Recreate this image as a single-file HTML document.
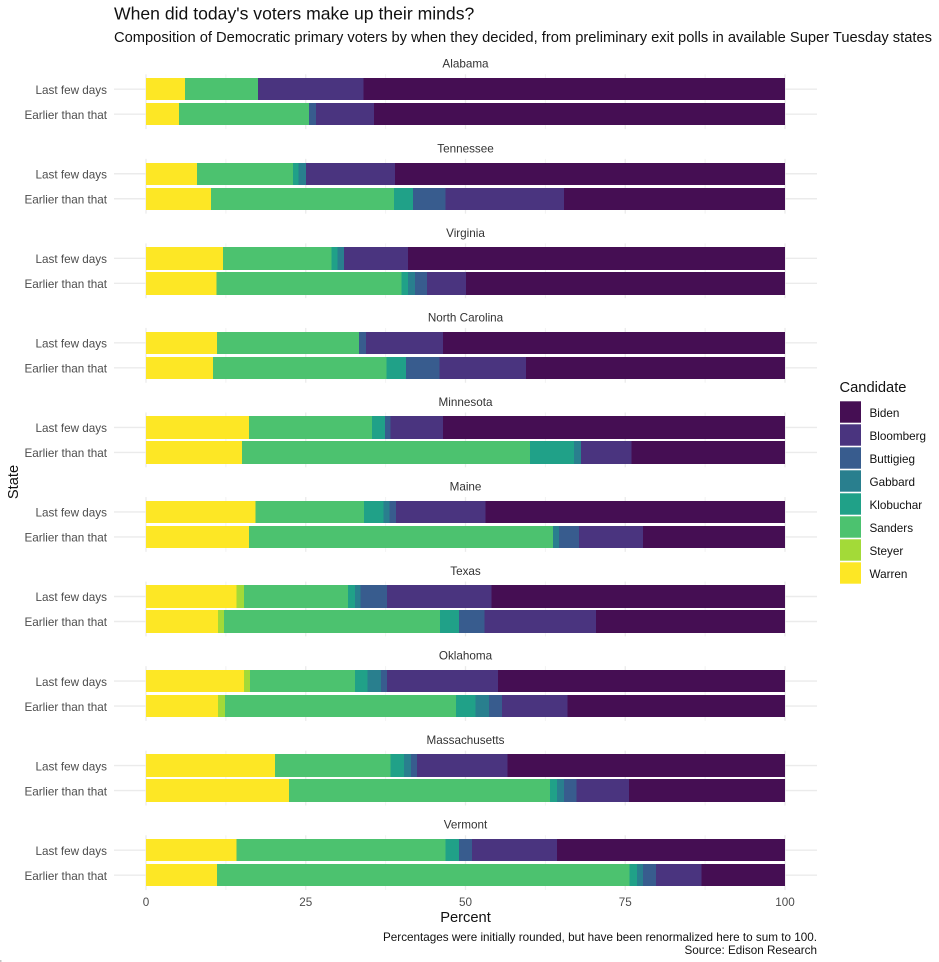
<!DOCTYPE html>
<html lang="en">
<head>
<meta charset="utf-8">
<title>When did today's voters make up their minds?</title>
<style>
html,body{margin:0;padding:0;background:#fff;width:939px;height:962px;overflow:hidden}
svg{display:block;font-family:"Liberation Sans",Arial,sans-serif}
</style>
</head>
<body>
<svg id="chart" width="939" height="962" viewBox="0 0 939 962" xmlns="http://www.w3.org/2000/svg">
  <rect x="0" y="0" width="939" height="962" fill="#ffffff"/>
  <text x="114" y="19.5" font-size="17.6" fill="#111">When did today's voters make up their minds?</text>
  <text x="114" y="42" font-size="14.7" fill="#111">Composition of Democratic primary voters by when they decided, from preliminary exit polls in available Super Tuesday states</text>
  <g id="panels"></g>
  <text transform="translate(18,482) rotate(-90)" text-anchor="middle" font-size="14.7" fill="#111">State</text>
  <text x="465.5" y="922" text-anchor="middle" font-size="14.7" fill="#111">Percent</text>
  <g id="x-ticks"></g>
  <g id="legend">
    <text x="839.5" y="392" font-size="14.7" fill="#111">Candidate</text>
  </g>
  <text x="817" y="941" text-anchor="end" font-size="11.7" fill="#111">Percentages were initially rounded, but have been renormalized here to sum to 100.</text>
  <text x="817" y="954" text-anchor="end" font-size="11.7" fill="#111">Source: Edison Research</text>
  <rect x="0" y="960" width="1.5" height="2" fill="#c4c4c4"/>
</svg>
<script>
const states = ["Alabama","Tennessee","Virginia","North Carolina","Minnesota","Maine","Texas","Oklahoma","Massachusetts","Vermont"];
const timings = ["Last few days","Earlier than that"];
const xTicks = [0,25,50,75,100];
const candidates = ["Biden","Bloomberg","Buttigieg","Gabbard","Klobuchar","Sanders","Steyer","Warren"];
const candidateColors = ["#450e53","#4a347f","#385c8e","#297f8e","#20a188","#4cc26f","#a3da38","#fde725"];
/* Each array: rows in order state by state, Last few days then Earlier than that */
const warren    = [6.1,5.2, 8.0,10.2, 12.05,11.0, 11.1,10.5, 16.1,15.0, 17.1,16.1, 14.2,11.3, 15.3,11.3, 20.2,22.4, 14.2,11.1];
const steyer    = [0,0, 0,0, 0,0, 0,0, 0,0, 0,0, 1.1,0.9, 1.0,1.1, 0,0, 0,0];
const sanders   = [11.4,20.3, 15.0,28.6, 16.95,29.0, 22.2,27.1, 19.3,45.1, 17.0,47.6, 16.3,33.8, 16.4,36.1, 18.1,40.8, 32.7,64.6];
const klobuchar = [0,0, 0.9,3.0, 1.0,1.0, 0,3.1, 2.0,6.9, 3.1,0, 1.1,3.0, 2.0,3.1, 2.1,1.1, 2.1,1.1];
const gabbard   = [0,0, 1.1,0, 1.0,1.1, 0,0, 0,1.1, 0.9,0.9, 0.9,0, 2.1,2.1, 1.1,1.1, 0,1.0];
const buttigieg = [0,1.1, 0,5.1, 0,1.9, 1.1,5.2, 0.9,0, 1.0,3.2, 4.1,4.0, 0.9,2.0, 0.9,2.0, 2.0,2.0];
const bloomberg = [16.5,9.1, 14.0,18.5, 10.0,6.1, 12.1,13.6, 8.2,7.9, 14.0,10.0, 16.4,17.4, 17.4,10.3, 14.2,8.2, 13.3,7.1];
const biden     = [66.0,64.3, 61.0,34.6, 59.0,49.9, 53.5,40.5, 53.5,24.0, 46.9,22.2, 45.9,29.6, 44.9,34.0, 43.4,24.4, 35.7,13.1];

const NS = "http://www.w3.org/2000/svg";
const stackOrder = [
  ["Warren", warren], ["Steyer", steyer], ["Sanders", sanders], ["Klobuchar", klobuchar],
  ["Gabbard", gabbard], ["Buttigieg", buttigieg], ["Bloomberg", bloomberg], ["Biden", biden]
];
const plotLeft = 114, plotRight = 817;
const x = function (v) { return 146 + v * 6.39; };
const panelStep = 84.55, firstRowCenter = 89.2, rowStep = 25, barHeight = 22.4;
const panelTop = function (s) { return 74.3 + s * panelStep; };
const rowCenter = function (s, t) { return firstRowCenter + s * panelStep + t * rowStep; };
const colorOf = function (name) { return candidateColors[candidates.indexOf(name)]; };
const slug = function (s) { return s.toLowerCase().replace(/[^a-z0-9]+/g, "-"); };

function make(tag, attrs, parent) {
  const el = document.createElementNS(NS, tag);
  for (const k in attrs) el.setAttribute(k, attrs[k]);
  parent.appendChild(el);
  return el;
}

const panels = document.getElementById("panels");
states.forEach(function (state, s) {
  const g = make("g", {}, panels);
  
  

  const strip = make("text", {x: 465.5, y: panelTop(s) - 6.6, "text-anchor": "middle", "font-size": 11.7, fill: "#333"}, g);
  
  
  strip.textContent = state;

  xTicks.forEach(function (tick, i) {
    const major = make("line", {x1: x(tick), x2: x(tick), y1: panelTop(s), y2: panelTop(s) + 54.8, stroke: "#ebebeb", "stroke-width": 1.3}, g);
    
    
    if (i < xTicks.length - 1) {
      const mid = (tick + xTicks[i + 1]) / 2;
      const minor = make("line", {x1: x(mid), x2: x(mid), y1: panelTop(s), y2: panelTop(s) + 54.8, stroke: "#f1f1f1", "stroke-width": 0.9}, g);
      
      
    }
  });

  timings.forEach(function (timing, t) {
    const cy = rowCenter(s, t);
    const grid = make("line", {x1: plotLeft, x2: plotRight, y1: cy, y2: cy, stroke: "#ebebeb", "stroke-width": 1.4}, g);
    
    

    const label = make("text", {x: 107, y: cy + 4.7, "text-anchor": "end", "font-size": 11.7, fill: "#4d4d4d"}, g);
    
    
    label.textContent = timing;

    const row = s * timings.length + t;
    let cum = 0;
    stackOrder.forEach(function (entry) {
      const name = entry[0], value = entry[1][row];
      if (value > 0) {
        const top = Math.round(cy - barHeight / 2);
        const bar = make("rect", {
          x: x(cum), y: top, width: x(cum + value) - x(cum), height: Math.round(cy + barHeight / 2) - top,
          fill: colorOf(name), "shape-rendering": "crispEdges"
        }, g);
        
        
      }
      cum += value;
    });
  });
});

const tickGroup = document.getElementById("x-ticks");
xTicks.forEach(function (tick) {
  const t = make("text", {x: x(tick), y: 906, "text-anchor": "middle", "font-size": 11.7, fill: "#4d4d4d"}, tickGroup);
  
  
  t.textContent = tick;
});

const legend = document.getElementById("legend");
candidates.forEach(function (name, i) {
  const y0 = 401.3 + i * 23;
  const swatch = make("rect", {x: 840, y: y0, width: 21, height: 21.4, fill: candidateColors[i]}, legend);
  
  
  const lab = make("text", {x: 869.5, y: y0 + 15.8, "font-size": 11.7, fill: "#111"}, legend);
  
  
  lab.textContent = name;
});
</script>
</body>
</html>
